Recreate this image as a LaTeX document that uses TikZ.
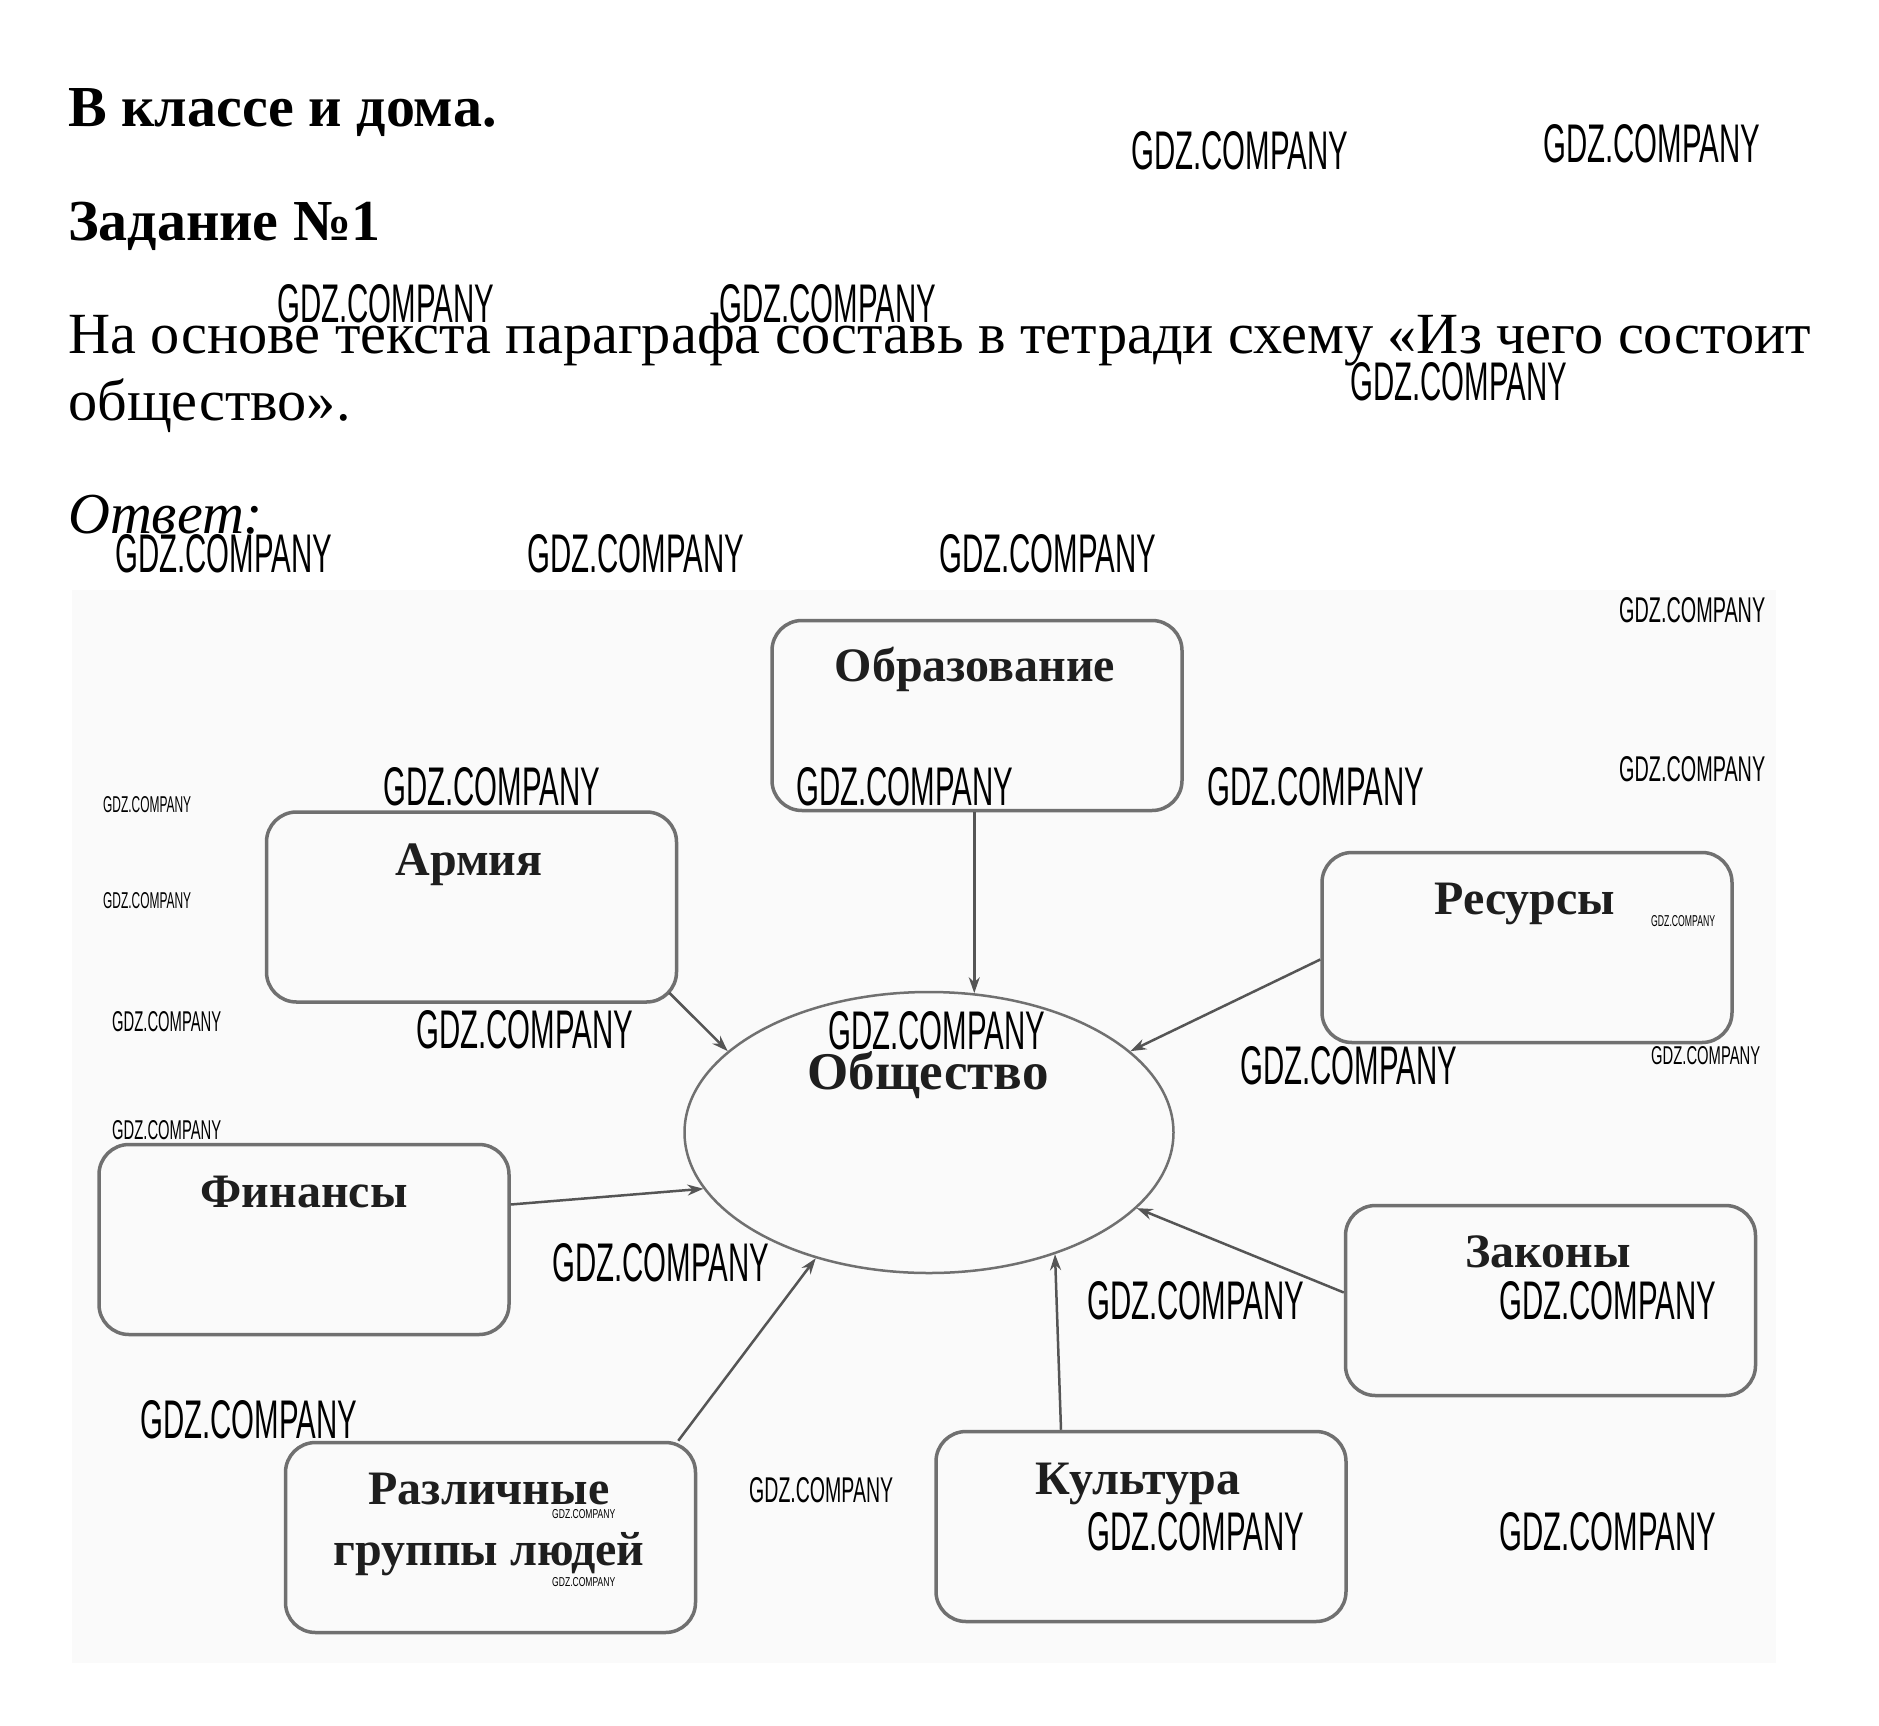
\documentclass[tikz,border=0pt]{standalone}
\usepackage{fontspec}
\setmainfont{Liberation Serif}
\newfontfamily\wmfont{Liberation Sans}
\usepackage{graphicx}
\usetikzlibrary{calc,arrows.meta,shapes.geometric}
\definecolor{boxline}{HTML}{707070}
\definecolor{bgcol}{HTML}{FAFAFA}
\definecolor{arrline}{HTML}{555555}
\definecolor{lbl}{HTML}{1E1E1E}
\tikzset{
  bx/.style={draw=boxline, line width=3.5pt, rounded corners=30pt, minimum width=410pt, minimum height=190pt, inner sep=0pt},
  lab/.style={font=\bfseries\fontsize{48}{54}\selectfont, text=lbl, inner sep=0pt, anchor=base},
  head/.style={inner sep=0pt, anchor=base west},
  wmk/.style={inner sep=0pt, anchor=north west},
  conn/.style={draw=arrline, line width=2.5pt, -{Stealth[length=16pt,width=11pt]}},
}
\newcommand{\wmtext}[2]{\resizebox{#1pt}{#2pt}{\wmfont GDZ.COMPANY}}
\begin{document}
\begin{tikzpicture}[x=1pt,y=-1pt]
\useasboundingbox (0,0) rectangle (1879,1726);
\fill[white] (0,0) rectangle (1879,1726);
\fill[bgcol] (72,590) rectangle (1776,1663);

% headings
\node[head, font=\bfseries\fontsize{58}{64}\selectfont] (h1) at (68,127) {В классе и дома.};
\node[head, font=\bfseries\fontsize{58}{64}\selectfont] (h2) at (68,240) {Задание №1};
\node[head, font=\fontsize{58.3}{64}\selectfont] (h3) at (68,353) {На основе текста параграфа составь в тетради схему «Из чего состоит};
\node[head, font=\fontsize{58.3}{64}\selectfont] (h4) at (68,420) {общество».};
\node[head, font=\itshape\fontsize{58}{64}\selectfont] (h5) at (68,533) {Ответ:};

% boxes
\node[bx] (obr) at (977,715.5) {};
\node[bx] (arm) at (471.5,907) {};
\node[bx] (res) at (1527,947.5) {};
\node[bx] (fin) at (304,1239.5) {};
\node[bx] (zak) at (1550.5,1300.5) {};
\node[bx] (raz) at (490.5,1537.5) {};
\node[bx] (kul) at (1141,1526.5) {};
\node[ellipse, draw=boxline, line width=2.5pt, minimum width=489pt, minimum height=281pt, inner sep=0pt] (soc) at (929,1132.5) {};

% labels
\node[lab] (obrT) at (975,681) {Образование};
\node[lab] (armT) at (469,875) {Армия};
\node[lab] (resT) at (1525,914) {Ресурсы};
\node[lab] (finT) at (304,1207) {Финансы};
\node[lab] (zakT) at (1548,1267) {Законы};
\node[lab] (razT1) at (489,1504) {Различные};
\node[lab] (razT2) at (489,1565) {группы людей};
\node[lab] (kulT) at (1138,1494) {Культура};
\node[lab, font=\bfseries\fontsize{53}{58}\selectfont] (socT) at (928,1089) {Общество};

% connectors
\draw[conn] (soc.72 |- obr.south) -- (soc.72);
\draw[conn] ($(arm.south east)+(-9,-11)$) -- (soc.158);
\draw[conn] ($(res.west)+(0,12)$) -- (soc.22.5);
\draw[conn] ($(fin.east)+(0,-35)$) -- (soc.194.5);
\draw[conn] ($(raz.north east)+(-19,0)$) -- (soc.228.5);
\draw[conn] ($(kul.north)+(-80,0)$) -- (soc.316);
\draw[conn] ($(zak.west)+(0,-8)$) -- (soc.340.5);

% watermarks
\node[wmk] (w1) at (1131,131) {\wmtext{217}{38}};
\node[wmk] (w2) at (1543,124) {\wmtext{217}{38}};
\node[wmk] (w3) at (277,284) {\wmtext{217}{38}};
\node[wmk] (w4) at (719,284) {\wmtext{217}{38}};
\node[wmk] (w5) at (1350,362) {\wmtext{217}{38}};
\node[wmk] (w6) at (115,534) {\wmtext{217}{38}};
\node[wmk] (w7) at (527,534) {\wmtext{217}{38}};
\node[wmk] (w8) at (939,534) {\wmtext{217}{38}};
\node[wmk] (w9) at (1619,597) {\wmtext{146}{25}};
\node[wmk] (w10) at (383,767) {\wmtext{217}{38}};
\node[wmk] (w11) at (796,767) {\wmtext{217}{38}};
\node[wmk] (w12) at (1207,767) {\wmtext{217}{38}};
\node[wmk] (w13) at (1619,756) {\wmtext{146}{25}};
\node[wmk] (w14) at (103,796) {\wmtext{88}{16}};
\node[wmk] (w15) at (103,892) {\wmtext{88}{16}};
\node[wmk] (w16) at (1651,915) {\wmtext{64}{11}};
\node[wmk] (w17) at (112,1011) {\wmtext{109}{20}};
\node[wmk] (w18) at (416,1010) {\wmtext{217}{38}};
\node[wmk] (w19) at (828,1011) {\wmtext{217}{38}};
\node[wmk] (w20) at (1240,1046) {\wmtext{217}{38}};
\node[wmk] (w21) at (1651,1046) {\wmtext{109}{18}};
\node[wmk] (w22) at (112,1120) {\wmtext{109}{19}};
\node[wmk] (w23) at (552,1243) {\wmtext{217}{38}};
\node[wmk] (w24) at (1087,1281) {\wmtext{217}{38}};
\node[wmk] (w25) at (1499,1281) {\wmtext{217}{38}};
\node[wmk] (w26) at (140,1400) {\wmtext{217}{38}};
\node[wmk] (w27) at (749,1477) {\wmtext{144}{25}};
\node[wmk] (w28) at (552,1509) {\wmtext{63}{9}};
\node[wmk] (w29) at (1087,1512) {\wmtext{217}{38}};
\node[wmk] (w30) at (1499,1512) {\wmtext{217}{38}};
\node[wmk] (w31) at (552,1577) {\wmtext{63}{9}};
\end{tikzpicture}
\end{document}
